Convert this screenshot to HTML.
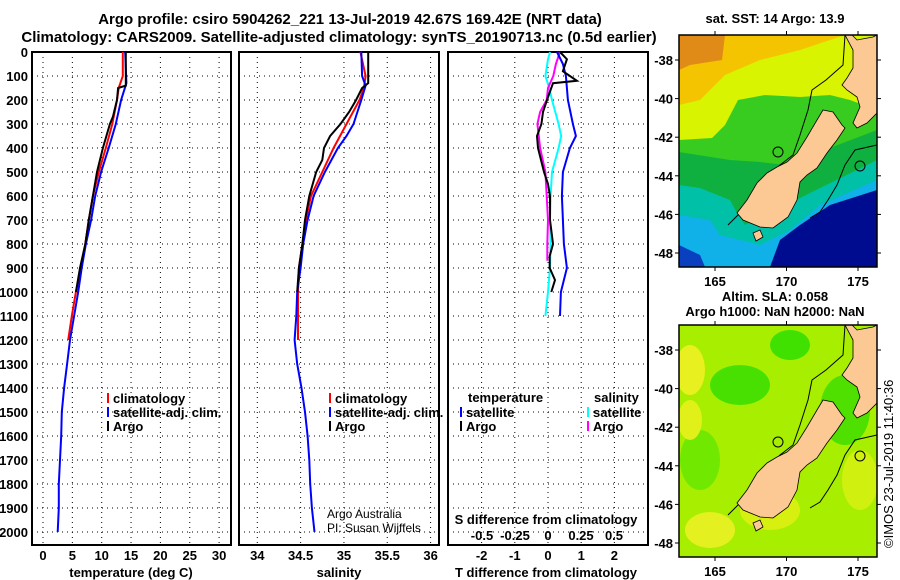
<!DOCTYPE html>
<html><head><meta charset="utf-8">
<style>
html,body{margin:0;padding:0;background:#fff;}
svg{display:block;font-family:"Liberation Sans",sans-serif;}
.b{font-weight:bold;font-size:13px;}
.t{font-weight:bold;font-size:15px;}
</style></head>
<body>
<svg id="fig" width="900" height="580" viewBox="0 0 900 580" xmlns="http://www.w3.org/2000/svg">
<g>
<text class="t" x="350" y="24" text-anchor="middle">Argo profile: csiro 5904262_221 13-Jul-2019 42.67S 169.42E (NRT data)</text>
<text class="t" x="339" y="42" text-anchor="middle">Climatology: CARS2009. Satellite-adjusted climatology: synTS_20190713.nc (0.5d earlier)</text>
</g>
<g id="plots"></g>
<g id="maps"></g>
<text transform="translate(893,548) rotate(-90)" font-size="13" >©IMOS 23-Jul-2019 11:40:36</text>
</svg>
<script>
// ---- data ----
const depthTicks=[0,100,200,300,400,500,600,700,800,900,1000,1100,1200,1300,1400,1500,1600,1700,1800,1900,2000];
const tempTicks=[0,5,10,15,20,25,30];
const salTicks=[34,34.5,35,35.5,36];
const salTickLabels=["34","34.5","35","35.5","36"];
const tdTicks=[-2,-1,0,1,2];
const sdTicks=[-0.5,-0.25,0,0.25,0.5];
const sdTickLabels=["-0.5","-0.25","0","0.25","0.5"];

const argoTDepth=[0,140,150,200,270,300,400,500,600,700,800,900,1000];
const argoT=[14.1,14.1,12.8,12.6,11.9,11.4,10.2,9.2,8.5,7.8,7.2,6.3,5.6];
const climTDepth=[0,100,150,200,300,400,500,600,700,800,900,1000,1100,1200];
const climT=[13.6,13.6,12.9,12.6,11.8,10.7,9.5,8.5,7.8,7.2,6.5,5.6,4.9,4.3];
const satTDepth=[0,130,200,300,400,500,600,700,800,900,1000,1100,1200,1300,1400,1500,1600,1700,1800,1900,2000];
const satT=[14.0,14.2,13.3,12.4,11.2,9.9,8.9,8.2,7.3,6.6,6.0,5.3,4.6,4.1,3.6,3.2,3.1,2.9,2.7,2.7,2.5];

const argoSDepth=[0,130,150,200,250,300,350,400,450,500,600,700,800,900,1000];
const argoS=[35.28,35.28,35.21,35.14,35.06,34.96,34.84,34.77,34.75,34.68,34.60,34.55,34.52,34.48,34.46];
const climSDepth=[0,100,150,200,300,400,500,600,700,800,900,1000,1100,1200];
const climS=[35.19,35.25,35.23,35.18,35.03,34.88,34.75,34.62,34.56,34.52,34.48,34.47,34.47,34.47];
const satSDepth=[0,100,140,200,300,350,400,500,600,700,800,900,1000,1100,1200,1300,1400,1500,1600,1700,1800,1900,2000];
const satS=[35.2,35.21,35.25,35.2,35.11,35.03,34.93,34.78,34.65,34.58,34.53,34.50,34.46,34.45,34.43,34.46,34.51,34.55,34.58,34.60,34.61,34.63,34.66];

const dTsatDepth=[0,50,100,150,200,300,350,400,500,600,700,800,900,1000,1100];
const dTsat=[0.27,0.45,0.54,0.57,0.6,0.75,0.84,0.66,0.45,0.42,0.45,0.48,0.57,0.39,0.36];
const dTargoDepth=[0,30,80,120,130,200,250,300,350,400,500,550,600,700,800,850,900,950,1000];
const dTargo=[0.36,0.57,0.45,0.87,0.15,-0.03,-0.15,-0.2,-0.33,-0.3,-0.12,0,0.06,0.06,0.15,0.05,0.05,0.21,0.1];
const dSsatDepth=[0,30,100,150,200,300,350,400,500,600,700,800,900,1000,1100];
const dSsat=[0.015,0.0,-0.02,0.01,0.03,0.08,0.1,0.08,0.03,0.02,0.015,0.02,0.015,0.0,-0.02];
const dSargoDepth=[0,50,100,150,200,250,300,350,400,500,600,700,800,870];
const dSargo=[0.09,0.06,0.04,0.0,-0.01,-0.06,-0.08,-0.07,-0.06,-0.02,-0.01,0.0,-0.005,-0.005];

// ---- helpers ----
const NS="http://www.w3.org/2000/svg";
function mk(tag,attrs,parent,text){const e=document.createElementNS(NS,tag);for(const k in attrs)e.setAttribute(k,attrs[k]);if(text!==undefined)e.textContent=text;parent.appendChild(e);return e;}
const plots=document.getElementById('plots');
const Y=d=>52+d*0.24;
const panels=[{x0:32,x1:231,name:'temperature-panel'},{x0:239,x1:439,name:'salinity-panel'},{x0:448,x1:648,name:'difference-panel'}];
const tX=v=>43+v*5.87;
const sX=v=>257.3+(v-34)*86.65;
const tdX=v=>548+v*33.2;
const sdX=v=>548+v*132;

panels.forEach((p,i)=>{
  const g=mk('g',{},plots);
  
  
  depthTicks.forEach(d=>{
    const l=mk('line',{x1:p.x0,x2:p.x1,y1:Y(d),y2:Y(d),stroke:'#000','stroke-dasharray':'1,4','stroke-width':1},g);
    
    
  });
  let xs=[];
  if(i===0)xs=tempTicks.map(tX);
  if(i===1)xs=salTicks.map(sX);
  if(i===2)xs=tdTicks.map(tdX);
  xs.forEach(x=>{
    const l=mk('line',{x1:x,x2:x,y1:52,y2:545,stroke:'#000','stroke-dasharray':'1,4','stroke-width':1},g);
    
    
  });
  const r=mk('rect',{x:p.x0,y:52,width:p.x1-p.x0,height:493,fill:'none',stroke:'#000','stroke-width':2},g);
  
  
});
depthTicks.forEach(d=>{
  const t=mk('text',{x:28,y:Y(d)+5,'text-anchor':'end',class:'b'},plots,String(d));
  
  
});
tempTicks.forEach(v=>{
  const t=mk('text',{x:tX(v),y:560,'text-anchor':'middle',class:'b'},plots,String(v));
  
  
});
salTicks.forEach((v,k)=>{
  const t=mk('text',{x:sX(v),y:560,'text-anchor':'middle',class:'b'},plots,salTickLabels[k]);
  
  
});
tdTicks.forEach(v=>{
  const t=mk('text',{x:tdX(v),y:560,'text-anchor':'middle',class:'b'},plots,String(v));
  
  
});
sdTicks.forEach((v,k)=>{
  const t=mk('text',{x:sdX(v),y:540,'text-anchor':'middle',class:'b'},plots,sdTickLabels[k]);
  
  
});
[[131,577,'temperature (deg C)','x-axis-title-temperature'],[339,577,'salinity','x-axis-title-salinity'],[546,577,'T difference from climatology','x-axis-title-t-diff'],[546,524,'S difference from climatology','x-axis-title-s-diff']].forEach(a=>{
  const t=mk('text',{x:a[0],y:a[1],'text-anchor':'middle',class:'b'},plots,a[2]);
  
  
});
function line(ds,vs,fx,color,name){
  const pts=ds.map((d,k)=>fx(vs[k]).toFixed(1)+','+Y(d).toFixed(1)).join(' ');
  const l=mk('polyline',{points:pts,fill:'none',stroke:color,'stroke-width':2},plots);
  
  
}
line(climTDepth,climT,tX,'#ff0000','climatology-temperature-line');
line(satTDepth,satT,tX,'#0000ff','satellite-temperature-line');
line(argoTDepth,argoT,tX,'#000000','argo-temperature-line');
line(climSDepth,climS,sX,'#ff0000','climatology-salinity-line');
line(satSDepth,satS,sX,'#0000ff','satellite-salinity-line');
line(argoSDepth,argoS,sX,'#000000','argo-salinity-line');
line(dSsatDepth,dSsat,sdX,'#00ffff','satellite-s-diff-line');
line(dSargoDepth,dSargo,sdX,'#ff00ff','argo-s-diff-line');
line(dTsatDepth,dTsat,tdX,'#0000ff','satellite-t-diff-line');
line(dTargoDepth,dTargo,tdX,'#000000','argo-t-diff-line');
function leg(x,y,color,txt){
  const g=mk('g',{},plots);
  
  
  mk('rect',{x:x,y:y-10,width:2,height:10,fill:color},g);
  mk('text',{x:x+6,y:y,class:'b'},g,txt);
}
leg(107,403,'#ff0000','climatology');leg(107,417,'#0000ff','satellite-adj. clim.');leg(107,431,'#000','Argo');
leg(329,403,'#ff0000','climatology');leg(329,417,'#0000ff','satellite-adj. clim.');leg(329,431,'#000','Argo');
mk('text',{x:468,y:402,class:'b'},plots,'temperature');
mk('text',{x:594,y:402,class:'b'},plots,'salinity');
leg(460,417,'#0000ff','satellite');leg(460,431,'#000','Argo');
leg(587,417,'#00ffff','satellite');leg(587,431,'#ff00ff','Argo');
const cr=mk('text',{x:327,y:518,'font-size':12},plots,'Argo Australia');

mk('text',{x:327,y:532,'font-size':12},plots,'PI: Susan Wijffels');

// ---- maps ----
const maps=document.getElementById('maps');
const lonTicks=[165,170,175];
const latTicks=[-38,-40,-42,-44,-46,-48];
const south=[[823,110],[833,112],[842,125],[845,128],[837,140],[827,153],[817,168],[807,175],[800,182],[797,200],[788,217],[773,228],[760,227],[743,220],[737,213],[747,200],[757,183],[767,173],[777,167],[787,162],[797,153],[807,137],[817,120]];
const north=[[845,35],[852,35],[857,40],[873,37],[877,35],[877,113],[867,123],[857,128],[853,123],[860,107],[857,97],[847,90],[842,85],[847,78],[853,68],[853,50]];
function map(top,name,layers,title1,title2){
  const g=mk('g',{},maps);
  
  
  const dy=top-35;
  const clipId=name+'-clip';
  const cp=mk('clipPath',{id:clipId},g);mk('rect',{x:679,y:top,width:198,height:232},cp);
  const inner=mk('g',{'clip-path':'url(#'+clipId+')'},g);
  layers.forEach(L=>{
    if(L.rect)mk('rect',{x:L.rect[0],y:L.rect[1]+dy,width:L.rect[2],height:L.rect[3],fill:L.c},inner);
    else if(L.ell)mk('ellipse',{cx:L.ell[0],cy:L.ell[1]+dy,rx:L.ell[2],ry:L.ell[3],fill:L.c},inner);
    else mk('polygon',{points:L.p.map(q=>q[0]+','+(q[1]+dy)).join(' '),fill:L.c},inner);
  });
  mk('polyline',{points:[[845,35],[843,65],[826,80],[812,90],[808,110],[800,135],[793,155],[780,165],[765,180],[755,195],[745,208],[728,225]].map(q=>q[0]+','+(q[1]+dy)).join(' '),fill:'none',stroke:'#000','stroke-width':1},inner);
  mk('polyline',{points:[[877,145],[855,150],[845,165],[837,185],[828,200],[820,212],[810,218]].map(q=>q[0]+','+(q[1]+dy)).join(' '),fill:'none',stroke:'#000','stroke-width':1},inner);
  mk('polygon',{points:south.map(q=>q[0]+','+(q[1]+dy)).join(' '),fill:'#fcc995',stroke:'#000','stroke-width':0.8},inner);
  mk('polygon',{points:north.map(q=>q[0]+','+(q[1]+dy)).join(' '),fill:'#fcc995',stroke:'#000','stroke-width':0.8},inner);
  mk('polygon',{points:[[753,233],[760,230],[763,237],[756,241]].map(q=>q[0]+','+(q[1]+dy)).join(' '),fill:'#fcc995',stroke:'#000','stroke-width':0.8},inner);
  mk('circle',{cx:778,cy:152+dy,r:5,fill:'none',stroke:'#000'},inner);
  mk('circle',{cx:860,cy:166+dy,r:5,fill:'none',stroke:'#000'},inner);
  mk('rect',{x:679,y:top,width:198,height:232,fill:'none',stroke:'#000','stroke-width':1.5},g);
  lonTicks.forEach(v=>{
    const x=715+(v-165)*14.3;
    mk('line',{x1:x,x2:x,y1:top,y2:top-4,stroke:'#000'},g);
    mk('line',{x1:x,x2:x,y1:top+232,y2:top+236,stroke:'#000'},g);
    const t=mk('text',{x:x,y:top+251,'text-anchor':'middle',class:'b'},g,String(v));
    
    
  });
  latTicks.forEach(v=>{
    const y=top+25+(-38-v)*19.3;
    mk('line',{x1:675,x2:679,y1:y,y2:y,stroke:'#000'},g);
    mk('line',{x1:877,x2:881,y1:y,y2:y,stroke:'#000'},g);
    const t=mk('text',{x:673,y:y+5,'text-anchor':'end',class:'b'},g,String(v));
    
    
  });
  mk('text',{x:775,y:title2?top-24:top-12,'text-anchor':'middle',class:'b'},g,title1);
  if(title2)mk('text',{x:775,y:top-9,'text-anchor':'middle',class:'b'},g,title2);
}
map(35,'sst-map',[
 {rect:[679,35,198,232],c:'#f4c400'},
 {p:[[679,35],[725,35],[722,60],[690,65],[679,70]],c:'#e08a18'},
 {p:[[679,105],[700,100],[725,75],[760,60],[800,50],[845,35],[877,35],[877,267],[679,267]],c:'#d8f400'},
 {p:[[679,140],[712,138],[725,125],[738,100],[765,95],[800,97],[830,95],[850,100],[877,110],[877,267],[679,267]],c:'#38cc20'},
 {p:[[679,152],[730,160],[760,162],[785,165],[877,130],[877,267],[679,267]],c:'#10b040'},
 {p:[[679,185],[700,188],[730,200],[737,213],[745,225],[877,160],[877,267],[679,267]],c:'#00c0a8'},
 {p:[[679,215],[710,220],[720,235],[760,245],[790,230],[820,205],[877,180],[877,267],[679,267]],c:'#10b0e8'},
 {p:[[770,267],[780,240],[800,225],[830,205],[877,190],[877,267]],c:'#000c90'},
 {p:[[679,245],[700,255],[705,267],[679,267]],c:'#0a40c0'}
],'sat. SST: 14 Argo: 13.9');
map(325,'sla-map',[
 {rect:[679,35,198,232],c:'#a8ee00'},
 {ell:[690,80,15,25],c:'#e8f020'},
 {ell:[740,95,30,20],c:'#48e000'},
 {ell:[790,55,20,15],c:'#40e000'},
 {ell:[700,170,20,30],c:'#70e800'},
 {ell:[710,240,25,18],c:'#e4f020'},
 {ell:[770,220,30,20],c:'#d8f010'},
 {ell:[845,120,25,35],c:'#50e000'},
 {ell:[860,190,18,30],c:'#d0f010'},
 {ell:[690,130,12,20],c:'#e0f018'}
],'Altim. SLA: 0.058','Argo h1000: NaN h2000: NaN');
</script>
</body></html>
